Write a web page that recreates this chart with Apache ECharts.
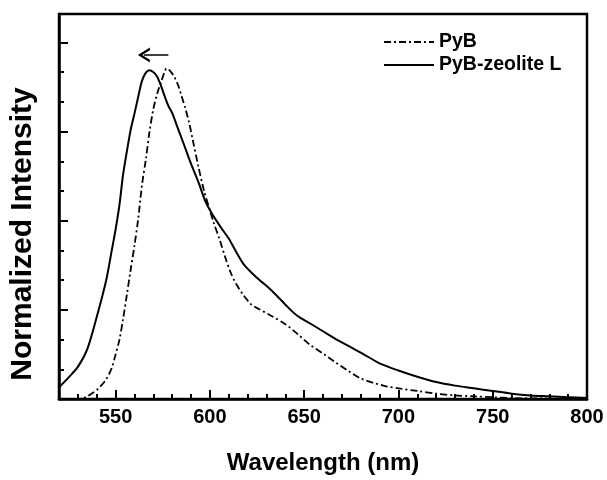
<!DOCTYPE html>
<html>
<head>
<meta charset="utf-8">
<script src="https://cdn.jsdelivr.net/npm/echarts@6/dist/echarts.min.js"></script>
<style>
  html, body { margin: 0; padding: 0; background: #fff; }
  #chart { width: 607px; height: 480px; }
</style>
</head>
<body>
<div id="chart"></div>
<script>
// PyB (dash-dot)
const pybWavelength = [520, 530, 533, 535, 538, 541, 545, 548, 550, 552, 554, 556, 558, 560, 562, 564, 566, 568, 570, 572, 574, 576, 577, 579, 581, 583, 585, 587, 589, 591, 594, 597, 600, 602, 605, 608, 611, 614, 618, 622, 626, 632, 640, 647, 653, 660, 666, 673, 680, 687, 694, 700, 710, 720, 730, 740, 750, 760, 780, 800]
const pybIntensity = [0, 0, 0.01, 0.03, 0.07, 0.12, 0.22, 0.35, 0.5, 0.66, 0.9, 1.17, 1.45, 1.72, 2.02, 2.4, 2.68, 3.0, 3.25, 3.42, 3.55, 3.67, 3.71, 3.68, 3.62, 3.53, 3.4, 3.26, 3.1, 2.9, 2.6, 2.33, 2.12, 1.98, 1.8, 1.6, 1.42, 1.29, 1.16, 1.06, 1.01, 0.94, 0.84, 0.72, 0.61, 0.51, 0.42, 0.32, 0.23, 0.18, 0.14, 0.12, 0.09, 0.06, 0.04, 0.03, 0.02, 0.01, 0.005, 0]

// PyB-zeolite L (solid)
const zeoWavelength = [520, 525, 530, 535, 540, 545, 548, 550, 552, 554, 556, 558, 560, 562, 564, 566, 568, 570, 572, 574, 576, 578, 580, 583, 586, 590, 594, 598, 602, 606, 610, 614, 618, 622, 626, 630, 635, 640, 646, 653, 660, 667, 674, 680, 685, 690, 700, 710, 720, 730, 740, 750, 760, 770, 780, 790, 800]
const zeoIntensity = [0.13, 0.24, 0.36, 0.56, 0.92, 1.33, 1.67, 1.9, 2.17, 2.52, 2.78, 3.02, 3.2, 3.39, 3.57, 3.66, 3.69, 3.67, 3.62, 3.52, 3.4, 3.29, 3.21, 3.04, 2.87, 2.64, 2.43, 2.2, 2.05, 1.92, 1.8, 1.65, 1.51, 1.42, 1.34, 1.27, 1.17, 1.06, 0.94, 0.85, 0.76, 0.67, 0.59, 0.52, 0.46, 0.4, 0.32, 0.25, 0.19, 0.15, 0.12, 0.09, 0.06, 0.04, 0.03, 0.02, 0.01]

const xMajorTicks = [550, 600, 650, 700, 750, 800]
const xMinorTicks = [530, 540, 560, 570, 580, 590, 610, 620, 630, 640, 660, 670, 680, 690, 710, 720, 730, 740, 760, 770, 780, 790]
const yMajorTicks = [1, 2, 3, 4]
const yMinorTicks = [0.333, 0.667, 1.333, 1.667, 2.333, 2.667, 3.333, 3.667]

// shift arrow above the peaks
const arrowFrom = [578, 3.86]
const arrowTo = [565, 3.86]

const FONT = '"Liberation Sans", Arial, sans-serif'
const chart = echarts.init(document.getElementById('chart'), null, { renderer: 'canvas' })

const toPairs = (xs, ys) => xs.map((x, i) => [x, ys[i]])

const baseX = {
  type: 'value',
  min: 520,
  max: 800,
  position: 'bottom',
  splitLine: { show: false },
}
const baseY = {
  type: 'value',
  min: 0,
  max: 4.32,
  position: 'left',
  splitLine: { show: false },
}

const option = {
  backgroundColor: '#fff',
  animation: false,
  grid: {
    left: 59,
    right: 20,
    top: 14,
    bottom: 79,
    show: true,
    borderColor: '#000',
    borderWidth: 2.5,
  },
  legend: {
    orient: 'vertical',
    left: 378,
    top: 27,
    itemWidth: 50,
    itemHeight: 14,
    itemGap: 3,
    itemStyle: { color: 'transparent', borderWidth: 0, opacity: 0 },
    textStyle: { fontFamily: FONT, fontWeight: 'bold', fontSize: 19.5, color: '#000' },
    data: ['PyB', 'PyB-zeolite L'],
  },
  xAxis: [
    {
      ...baseX,
      name: 'Wavelength (nm)',
      nameLocation: 'middle',
      nameGap: 52,
      nameTextStyle: { fontFamily: FONT, fontWeight: 'bold', fontSize: 24, color: '#000' },
      axisLine: { show: true, lineStyle: { color: '#000', width: 2.5 } },
      axisTick: { inside: true, length: 9, lineStyle: { color: '#000', width: 2 }, customValues: xMajorTicks },
      axisLabel: {
        customValues: xMajorTicks,
        margin: 8,
        color: '#000',
        fontFamily: FONT,
        fontWeight: 'bold',
        fontSize: 20,
      },
    },
    {
      ...baseX,
      axisLine: { show: false },
      axisTick: { inside: true, length: 5, lineStyle: { color: '#000', width: 2 }, customValues: xMinorTicks },
      axisLabel: { show: false },
    },
  ],
  yAxis: [
    {
      ...baseY,
      axisLine: { show: true, lineStyle: { color: '#000', width: 2.5 } },
      axisTick: { inside: true, length: 9, lineStyle: { color: '#000', width: 2 }, customValues: yMajorTicks },
      axisLabel: { show: false },
    },
    {
      ...baseY,
      axisLine: { show: false },
      axisTick: { inside: true, length: 5, lineStyle: { color: '#000', width: 2 }, customValues: yMinorTicks },
      axisLabel: { show: false },
    },
  ],
  graphic: [
    {
      type: 'text',
      x: 23,
      y: 234,
      rotation: Math.PI / 2,
      style: {
        text: 'Normalized Intensity',
        fontFamily: FONT,
        fontWeight: 'bold',
        fontSize: 30,
        fill: '#000',
        textAlign: 'center',
        textVerticalAlign: 'middle',
      },
    },
  ],
  series: [
    {
      name: 'PyB',
      type: 'line',
      data: toPairs(pybWavelength, pybIntensity),
      smooth: 0.3,
      symbol: 'none',
      lineStyle: { color: '#000', width: 1.8, type: [7, 3, 2, 3] },
      itemStyle: { color: '#000' },
    },
    {
      name: 'PyB-zeolite L',
      type: 'line',
      data: toPairs(zeoWavelength, zeoIntensity),
      smooth: 0.3,
      symbol: 'none',
      lineStyle: { color: '#000', width: 2 },
      itemStyle: { color: '#000' },
      markLine: {
        silent: true,
        symbol: ['none', 'path://M0,10 L5,0 L10,10 L8.2,10 L5,3.6 L1.8,10 Z'],
        symbolSize: [15, 12],
        label: { show: false },
        lineStyle: { color: '#000', width: 1.5, type: 'solid' },
        data: [[{ coord: arrowFrom }, { coord: arrowTo }]],
      },
    },
  ],
}

chart.setOption(option)
</script>
</body>
</html>
